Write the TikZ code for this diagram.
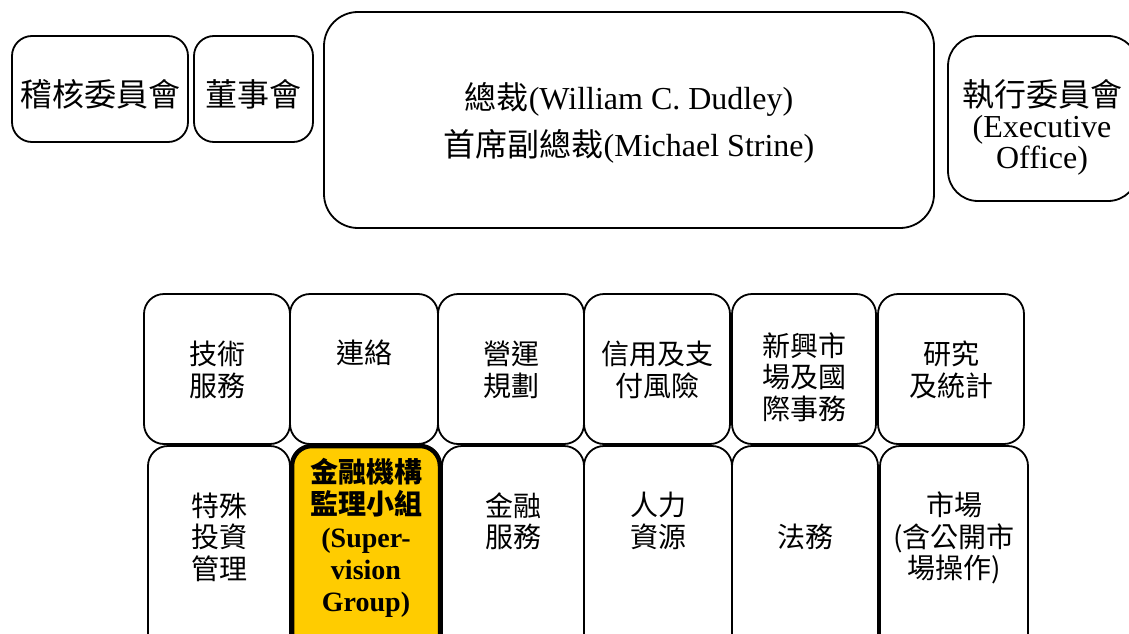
\documentclass[tikz,border=0pt]{standalone}
\usepackage{fontspec}
\setmainfont{Liberation Serif}
\newfontfamily\cjk{Noto Sans CJK TC}
\definecolor{supy}{HTML}{FFCC00}
\begin{document}
\begin{tikzpicture}[x=1pt,y=-1pt,
  box/.style={draw=black, line width=1.8pt, rounded corners=20pt, inner sep=0pt, fill=white},
  supbox/.style={box, line width=4.5pt, fill=supy},
  big/.style={font={\fontsize{32}{47}\selectfont}, align=center, inner sep=0pt},
  exe/.style={font={\fontsize{32}{31}\selectfont}, align=center, inner sep=0pt},
  top/.style={font={\cjk\fontsize{32}{38}\selectfont}, align=center, inner sep=0pt},
  txt/.style={font={\cjk\fontsize{28}{31.5}\selectfont}, align=center, inner sep=0pt},
  btxt/.style={font={\bfseries\fontsize{28}{32.2}\selectfont}, align=center, inner sep=0pt}
]
\useasboundingbox (0,0) rectangle (1129,634);
\clip (0,0) rectangle (1129,634);

% top row
\node[box, minimum width=176pt, minimum height=106pt] (audit) at (100,89) {};
\node[top] (auditT) at (100,94) {稽核委員會};
\node[box, minimum width=119pt, minimum height=106pt] (board) at (253.5,89) {};
\node[top] (boardT) at (253.5,94) {董事會};
\node[box, rounded corners=34pt, minimum width=610pt, minimum height=216pt] (pres) at (629,120) {};
\node[big] (presT) at (629,123) {{\cjk 總裁}(William C. Dudley)\\{\cjk 首席副總裁}(Michael Strine)};
\node[box, rounded corners=30pt, minimum width=190pt, minimum height=165pt] (exec) at (1043,118.5) {};
\node[exe] (execT) at (1042,127) {{\cjk 執行委員會}\\(Executive\\Office)};

% first department row
\node[box, minimum width=146pt, minimum height=150pt] (r1a) at (217,369) {};
\node[box, minimum width=148pt, minimum height=150pt] (r1b) at (364,369) {};
\node[box, minimum width=146pt, minimum height=150pt] (r1c) at (511,369) {};
\node[box, minimum width=146pt, minimum height=150pt] (r1d) at (657,369) {};
\node[box, minimum width=144pt, minimum height=150pt] (r1e) at (804,369) {};
\node[box, minimum width=146pt, minimum height=150pt] (r1f) at (951,369) {};
\node[txt] at (217,370) {技術\\服務};
\node[txt] at (364,353) {連絡};
\node[txt] at (511,370) {營運\\規劃};
\node[txt] at (657,370) {信用及支\\付風險};
\node[txt] at (804,377) {新興市\\場及國\\際事務};
\node[txt] at (951,370) {研究\\及統計};

% second department row
\node[box, minimum width=142pt, minimum height=214pt] (r2a) at (219,553) {};
\node[supbox, minimum width=148pt, minimum height=214pt] (r2b) at (366,553) {};
\node[box, minimum width=142pt, minimum height=214pt] (r2c) at (513,553) {};
\node[box, minimum width=148pt, minimum height=214pt] (r2d) at (658,553) {};
\node[box, minimum width=146pt, minimum height=214pt] (r2e) at (805,553) {};
\node[box, minimum width=148pt, minimum height=214pt] (r2f) at (954,553) {};
\node[txt] at (219,537) {特殊\\投資\\管理};
\node[btxt] at (366,538) {{\cjk 金融機構}\\{\cjk 監理小組}\\(Super-\\vision\\Group)};
\node[txt] at (513,521) {金融\\服務};
\node[txt] at (658,521) {人力\\資源};
\node[txt] at (805,537) {法務};
\node[txt] at (954,538) {市場\\(含公開市\\場操作)};
\end{tikzpicture}
\end{document}
